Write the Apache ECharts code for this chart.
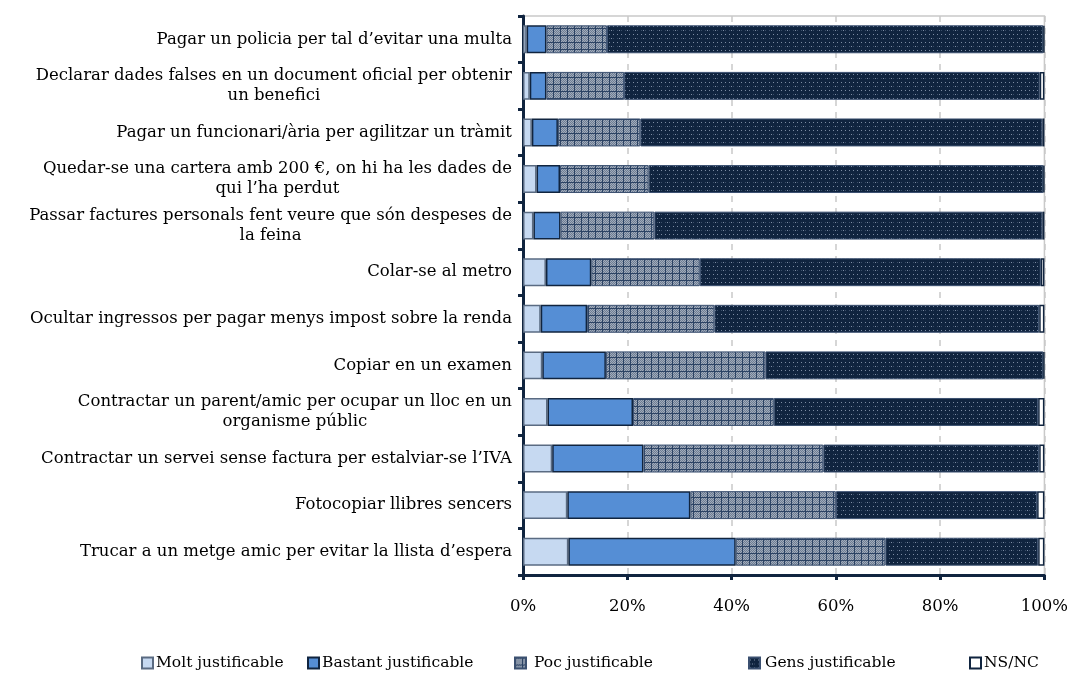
<!DOCTYPE html>
<html>
<head>
<meta charset="utf-8">
<script src="https://cdn.jsdelivr.net/npm/echarts@6/dist/echarts.min.js"></script>
<style>
  html, body { margin: 0; padding: 0; background: #fff; }
  #chart { width: 1071px; height: 699px; }
</style>
</head>
<body>
<div id="chart"></div>
<script>
const categories = [
  'Pagar un policia per tal d\u2019evitar una multa',
  'Declarar dades falses en un document oficial per obtenir\nun benefici',
  'Pagar un funcionari/\u00e0ria per agilitzar un tr\u00e0mit',
  'Quedar-se una cartera amb 200 \u20ac, on hi ha les dades de\nqui l\u2019ha perdut',
  'Passar factures personals fent veure que s\u00f3n despeses de\nla feina',
  'Colar-se al metro',
  'Ocultar ingressos per pagar menys impost sobre la renda',
  'Copiar en un examen',
  'Contractar un parent/amic per ocupar un lloc en un\norganisme p\u00fablic',
  'Contractar un servei sense factura per estalviar-se l\u2019IVA',
  'Fotocopiar llibres sencers',
  'Trucar a un metge amic per evitar la llista d\u2019espera'
];
const molt    = [0.7, 1.3, 1.7, 2.6, 2.0, 4.4, 3.4, 3.7, 4.7, 5.6, 8.5, 8.7];
const bastant = [3.8, 3.2, 5.0, 4.5, 5.2, 8.7, 8.9, 12.2, 16.4, 17.5, 23.6, 32.1];
const poc     = [11.6, 14.9, 15.8, 17.0, 18.0, 20.8, 24.4, 30.6, 27.0, 34.5, 27.9, 28.7];
const gens    = [83.7, 79.7, 77.1, 75.7, 74.4, 65.4, 62.3, 53.3, 50.7, 41.4, 38.6, 29.3];
const nsnc    = [0.2, 0.9, 0.4, 0.2, 0.4, 0.7, 1.0, 0.2, 1.2, 1.0, 1.4, 1.2];
const seriesNames = ['Molt justificable', 'Bastant justificable', 'Poc justificable', 'Gens justificable', 'NS/NC'];
const xTicks = [0, 20, 40, 60, 80, 100];

const NAVY = '#10243f';
const FONT = 'DejaVu Serif';
const FS = 16.5;

// small canvas textures for the patterned series
function pocPattern() {
  const c = document.createElement('canvas');
  c.width = 7; c.height = 7;
  const g = c.getContext('2d');
  g.fillStyle = '#a2acba';
  g.fillRect(0, 0, 7, 7);
  g.fillStyle = '#6c7c94';
  for (let y = 1; y < 7; y++) for (let x = 1; x < 7; x++) if ((x + y) % 2 === 0) g.fillRect(x, y, 1, 1);
  g.fillStyle = '#2c4364';
  g.fillRect(0, 0, 7, 1);
  g.fillRect(0, 0, 1, 7);
  return c;
}
function gensPattern() {
  const c = document.createElement('canvas');
  c.width = 8; c.height = 8;
  const g = c.getContext('2d');
  g.fillStyle = NAVY;
  g.fillRect(0, 0, 8, 8);
  g.fillStyle = '#7d8ca3';
  g.fillRect(1, 2, 1, 1);
  g.fillRect(5, 2, 1, 1);
  g.fillRect(3, 6, 1, 1);
  g.fillStyle = '#3a4d68';
  g.fillRect(1, 6, 1, 1);
  g.fillRect(5, 6, 1, 1);
  return c;
}

const styles = [
  { color: '#c6d9f1', borderColor: '#5a6b82', borderWidth: 1.5 },
  { color: '#558ed5', borderColor: NAVY, borderWidth: 1.5 },
  { color: { image: pocPattern(), repeat: 'repeat' }, borderColor: '#3b5070', borderWidth: 1 },
  { color: { image: gensPattern(), repeat: 'repeat' }, borderColor: '#3b5070', borderWidth: 1 },
  { color: '#ffffff', borderColor: NAVY, borderWidth: 1.5 }
];
const datasets = [molt, bastant, poc, gens, nsnc];

const chart = echarts.init(document.getElementById('chart'));

const legendLeft = [141, 307, 514, 748, 969];
const legendTextGap = [-2, -2, 3, 0, -2];
const legends = seriesNames.map((n, i) => ({
  data: [{ name: n, icon: 'rect' }],
  left: legendLeft[i],
  top: 655,
  padding: 0,
  itemWidth: 11,
  itemHeight: 11,
  itemGap: 4,
  textStyle: { fontFamily: FONT, fontSize: 15.5, color: '#000', padding: [0, 0, 0, legendTextGap[i]] }
}));

chart.setOption({
  animation: false,
  backgroundColor: '#fff',
  textStyle: { fontFamily: FONT },
  legend: legends,
  grid: {
    left: 523, right: 24, top: 16, bottom: 124,
    show: true, borderColor: '#c9c9c9', borderWidth: 1.5
  },
  xAxis: {
    type: 'value',
    min: 0, max: 100, interval: 20,
    axisLine: { show: true, lineStyle: { color: NAVY, width: 3 } },
    axisTick: { show: true, length: 5, lineStyle: { color: NAVY, width: 3 } },
    splitLine: { show: true, lineStyle: { color: '#c9c9c9', width: 1.5, type: [6, 6] } },
    axisLabel: {
      formatter: v => xTicks.includes(v) ? v + '%' : '',
      fontFamily: FONT, fontSize: FS, color: '#000', margin: 23
    }
  },
  yAxis: {
    type: 'category',
    inverse: true,
    data: categories,
    axisLine: { show: true, lineStyle: { color: NAVY, width: 3 } },
    axisTick: { show: true, length: 5, lineStyle: { color: NAVY, width: 3 } },
    axisLabel: {
      margin: 11,
      align: 'right',
      // lines of a wrapped label are centred on each other, block is right-anchored
      formatter: v => v.split('\n').map(s => '{c|' + s + '}').join('\n'),
      rich: {
        c: { align: 'center', fontFamily: FONT, fontSize: FS, color: '#000', lineHeight: 20 }
      }
    }
  },
  series: seriesNames.map((n, i) => ({
    name: n,
    type: 'bar',
    stack: 'total',
    barCategoryGap: '40%',
    data: datasets[i],
    itemStyle: styles[i]
  }))
});
</script>
</body>
</html>
